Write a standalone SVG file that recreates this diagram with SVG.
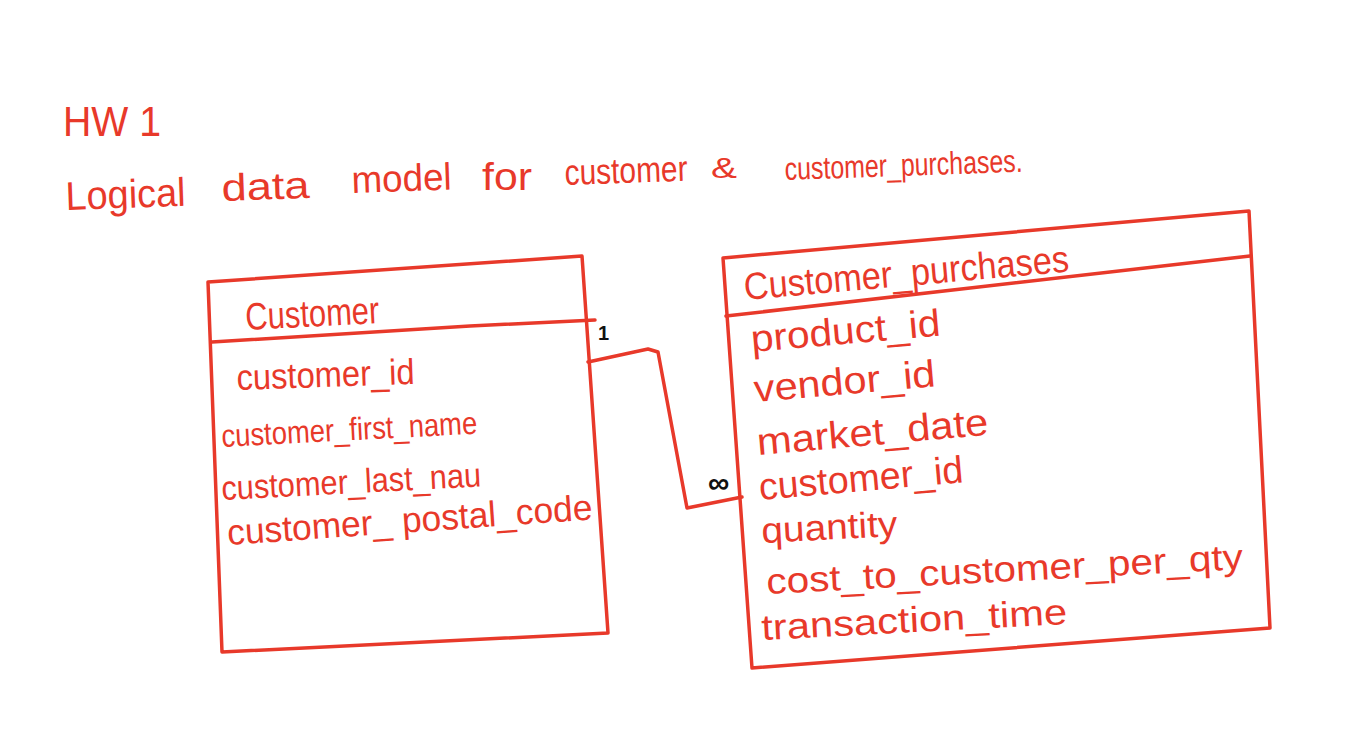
<svg xmlns="http://www.w3.org/2000/svg" width="1368" height="755" viewBox="0 0 1368 755">
<style>
.ln{fill:none;stroke:#E8392A;stroke-width:3.5;stroke-linejoin:round;stroke-linecap:round}
.t{fill:#E8392A;font-family:"Liberation Sans","DejaVu Sans",sans-serif}
.k{fill:#111;font-family:"Liberation Sans","DejaVu Sans",sans-serif;font-weight:bold}
</style>
<rect width="1368" height="755" fill="#fff"/>
<g id="title">
<text class="t" x="63" y="136" font-size="42" textLength="98" lengthAdjust="spacingAndGlyphs">HW 1</text>
<text class="t" x="66" y="210" font-size="40" textLength="120" lengthAdjust="spacingAndGlyphs" transform="rotate(-2 66 210)">Logical</text>
<text class="t" x="222" y="201" font-size="38" textLength="88" lengthAdjust="spacingAndGlyphs" transform="rotate(-2 222 201)">data</text>
<text class="t" x="352" y="193" font-size="38" textLength="100" lengthAdjust="spacingAndGlyphs" transform="rotate(-2 352 193)">model</text>
<text class="t" x="482" y="190" font-size="38" textLength="50" lengthAdjust="spacingAndGlyphs">for</text>
<text class="t" x="565" y="185" font-size="36" textLength="123" lengthAdjust="spacingAndGlyphs" transform="rotate(-2 565 185)">customer</text>
<text class="t" x="711" y="178" font-size="30" textLength="26" lengthAdjust="spacingAndGlyphs">&amp;</text>
<text class="t" x="785" y="180" font-size="32" textLength="238" lengthAdjust="spacingAndGlyphs" transform="rotate(-2 785 180)">customer_purchases.</text>
</g>
<g id="customer">
<polyline class="ln" points="208,282 582,256 608,633 222,652 208,282"/>
<polyline class="ln" points="212,342 470,326 595,320"/>
<text class="t" x="246" y="330" font-size="38" textLength="134" lengthAdjust="spacingAndGlyphs" transform="rotate(-3 246 330)">Customer</text>
<text class="t" x="237" y="390" font-size="36" textLength="178" lengthAdjust="spacingAndGlyphs" transform="rotate(-2 237 390)">customer_id</text>
<text class="t" x="222" y="447" font-size="32" textLength="256" lengthAdjust="spacingAndGlyphs" transform="rotate(-3 222 447)">customer_first_name</text>
<text class="t" x="222" y="500" font-size="34" textLength="260" lengthAdjust="spacingAndGlyphs" transform="rotate(-3 222 500)">customer_last_nau</text>
<text class="t" x="228" y="545" font-size="36" textLength="366" lengthAdjust="spacingAndGlyphs" transform="rotate(-4 228 545)">customer_ postal_code</text>
</g>
<g id="customer_purchases">
<polyline class="ln" points="723,258 1249,211 1270,628 752,668 723,258"/>
<polyline class="ln" points="726,316 1250,256"/>
<text class="t" x="745" y="300" font-size="38" textLength="326" lengthAdjust="spacingAndGlyphs" transform="rotate(-5 745 300)">Customer_purchases</text>
<text class="t" x="752" y="352" font-size="38" textLength="190" lengthAdjust="spacingAndGlyphs" transform="rotate(-5 752 352)">product_id</text>
<text class="t" x="755" y="402" font-size="38" textLength="182" lengthAdjust="spacingAndGlyphs" transform="rotate(-5 755 402)">vendor_id</text>
<text class="t" x="758" y="455" font-size="38" textLength="232" lengthAdjust="spacingAndGlyphs" transform="rotate(-5 758 455)">market_date</text>
<text class="t" x="760" y="500" font-size="38" textLength="205" lengthAdjust="spacingAndGlyphs" transform="rotate(-5 760 500)">customer_id</text>
<text class="t" x="762" y="543" font-size="36" textLength="136" lengthAdjust="spacingAndGlyphs" transform="rotate(-3 762 543)">quantity</text>
<text class="t" x="767" y="594" font-size="36" textLength="477" lengthAdjust="spacingAndGlyphs" transform="rotate(-3 767 594)">cost_to_customer_per_qty</text>
<text class="t" x="762" y="640" font-size="36" textLength="306" lengthAdjust="spacingAndGlyphs" transform="rotate(-3 762 640)">transaction_time</text>
</g>
<g id="connectors">
<polyline class="ln" points="588,362 648,349 658,352 687,508 742,497"/>
<text class="k" x="598" y="340" font-size="20">1</text>
<text class="k" x="708" y="493" font-size="30">∞</text>
</g>
</svg>
